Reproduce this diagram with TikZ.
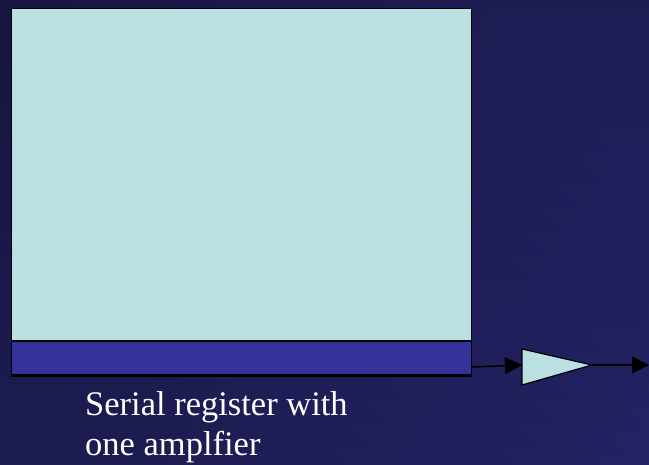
\documentclass[tikz,border=0pt]{standalone}
\usepackage{fontspec}
\setmainfont{Liberation Serif}
\usetikzlibrary{arrows.meta,shapes.geometric}
\definecolor{bgA}{HTML}{141338}
\definecolor{bgB}{HTML}{27266E}
\definecolor{ccd}{HTML}{BAE0E3}
\definecolor{reg}{HTML}{35339A}
\begin{document}
\begin{tikzpicture}[x=1pt,y=-1pt,
  conn/.style={line width=1.5pt,-{Triangle[length=17pt,width=17pt]}},
  label/.style={text=white,font=\fontsize{34.5}{40}\selectfont,align=left,anchor=north west,inner sep=0pt}]
\shade[left color=bgA,right color=bgB,shading angle=135] (0,0) rectangle (649,464);
\useasboundingbox (0,0) rectangle (649,464);
\path[top color=bgA, bottom color=bgB, opacity=0.5] (0,0) rectangle (649,464);
\node[draw=black,line width=1.2pt,fill=ccd,minimum width=460pt,minimum height=368pt,anchor=north west,inner sep=0pt] (ccd) at (10.5,7.5) {};
\node[draw=black,line width=1.2pt,fill=reg,minimum width=460pt,minimum height=34pt,anchor=south west,inner sep=0pt] (sreg) at (10.5,375.5) {};
\draw[black,line width=1.2pt,fill=ccd] (522,349) -- (592,365) -- (522,385) -- cycle;
\coordinate (ampin) at (522,365);
\coordinate (ampout) at (592,365);
\coordinate (out) at (649,365);
\draw[conn] (sreg.east |- 0,367) -- (ampin);
\draw[conn] (ampout) -- (out);
\node[label] (txt) at (85,391) {Serial register with\\one amplfier};
\end{tikzpicture}
\end{document}
